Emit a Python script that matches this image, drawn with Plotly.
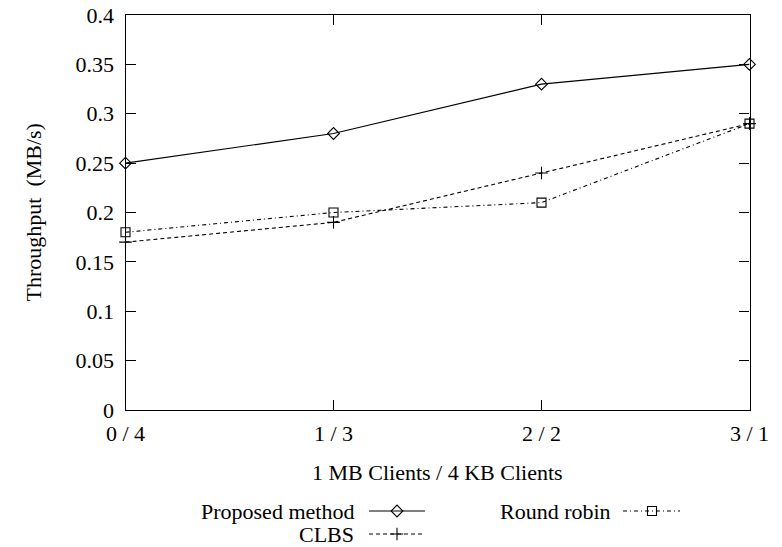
import plotly.graph_objects as go

categories = ["0 / 4", "1 / 3", "2 / 2", "3 / 1"]
proposed = [0.25, 0.28, 0.33, 0.35]
clbs = [0.17, 0.19, 0.24, 0.29]
round_robin = [0.18, 0.20, 0.21, 0.29]
y_ticks = [0, 0.05, 0.1, 0.15, 0.2, 0.25, 0.3, 0.35, 0.4]
y_tick_labels = ["0", "0.05", "0.1", "0.15", "0.2", "0.25", "0.3", "0.35", "0.4"]

W, H = 782, 547
L, R, T, B = 125.5, 749.5, 15, 410
FONT = "Liberation Serif"
FS = 22

xs = list(range(len(categories)))

series = [
    ("Proposed method", proposed, "solid", "diamond-open"),
    ("CLBS", clbs, "4px,3px", "cross-thin-open"),
    ("Round robin", round_robin, "4px,3px,1px,3px", "square-open"),
]

fig = go.Figure()
for name, vals, dash, sym in series:
    fig.add_trace(go.Scatter(
        x=xs, y=vals, mode="lines+markers", name=name,
        line=dict(color="black", width=1.1, dash=dash),
        marker=dict(symbol=sym, size=9, color="black",
                    line=dict(color="black", width=1.1)),
        cliponaxis=False, showlegend=False,
    ))

# legend drawn on a separate full-page pixel axes
legend_items = [
    ("Proposed method", 355, 511, 369, 425, 397, "solid", "diamond-open"),
    ("CLBS", 355, 534, 369, 425, 397, "4px,3px", "cross-thin-open"),
    ("Round robin", 612, 511, 623, 680, 652, "4px,3px,1px,3px", "square-open"),
]
for name, tx, ty, x0, x1, mx, dash, sym in legend_items:
    fig.add_trace(go.Scatter(
        x=[x0, mx, x1], y=[ty, ty, ty], xaxis="x2", yaxis="y2",
        mode="lines", line=dict(color="black", width=1.1, dash=dash),
        showlegend=False, hoverinfo="skip", cliponaxis=False))
    fig.add_trace(go.Scatter(
        x=[mx], y=[ty], xaxis="x2", yaxis="y2", mode="markers",
        marker=dict(symbol=sym, size=9, color="black",
                    line=dict(color="black", width=1.1)),
        showlegend=False, hoverinfo="skip", cliponaxis=False))
    fig.add_annotation(x=tx, y=ty, xref="x2", yref="y2", text=name,
                       showarrow=False, xanchor="right", yanchor="middle",
                       borderpad=0,
                       font=dict(family=FONT, size=FS, color="black"))

fig.add_annotation(x=(L + R) / 2, y=472, xref="x2", yref="y2",
                   text="1 MB Clients / 4 KB Clients", showarrow=False,
                   xanchor="center", yanchor="middle",
                   font=dict(family=FONT, size=FS, color="black"))
fig.add_annotation(x=33, y=(T + B) / 2, xref="x2", yref="y2",
                   text="Throughput  (MB/s)", showarrow=False, textangle=-90,
                   xanchor="center", yanchor="middle",
                   font=dict(family=FONT, size=FS, color="black"))

axis_common = dict(showline=True, linecolor="black", linewidth=1.3,
                   mirror="allticks", ticks="inside", ticklen=10,
                   tickwidth=1.1, tickcolor="black", showgrid=False,
                   zeroline=False, automargin=False,
                   tickfont=dict(family=FONT, size=FS, color="black"))

fig.update_layout(
    template="none",
    width=W, height=H,
    margin=dict(l=0, r=0, t=0, b=0, pad=0),
    paper_bgcolor="white", plot_bgcolor="rgba(0,0,0,0)",
    xaxis=dict(domain=[L / W, R / W], range=[0, 3], tickvals=xs,
               ticktext=categories, anchor="y", ticklabelstandoff=3,
               **axis_common),
    yaxis=dict(domain=[(H - B) / H, (H - T) / H], range=[0, 0.4],
               tickvals=y_ticks, ticktext=y_tick_labels, anchor="x",
               ticklabelstandoff=6, **axis_common),
    xaxis2=dict(domain=[0, 1], range=[0, W], visible=False, anchor="y2",
                fixedrange=True, automargin=False),
    yaxis2=dict(domain=[0, 1], range=[H, 0], visible=False, anchor="x2",
                fixedrange=True, automargin=False),
)

fig.write_html("out.html",
               config={"displayModeBar": False},
               post_script="document.body.style.margin='0px';"
                           "document.body.style.overflow='hidden';")
